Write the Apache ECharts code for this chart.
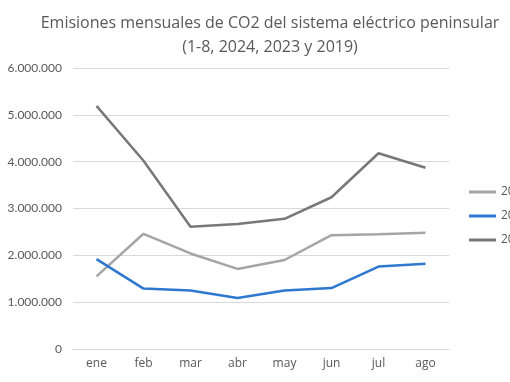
<!DOCTYPE html>
<html><head><meta charset="utf-8">
<script src="https://cdn.jsdelivr.net/npm/echarts@6/dist/echarts.min.js"></script>
<style>html,body{margin:0;padding:0;background:#fff}#c{width:510px;height:382px}</style>
</head><body><div id="c"></div>
<script>
var categories = ['ene','feb','mar','abr','may','jun','jul','ago'];
var s2024 = [1550000, 2460000, 2040000, 1710000, 1900000, 2430000, 2450000, 2480000];
var s2023 = [1920000, 1290000, 1250000, 1090000, 1250000, 1300000, 1760000, 1820000];
var s2019 = [5190000, 4020000, 2610000, 2670000, 2780000, 3240000, 4180000, 3870000];
var seriesNames = ['2024','2023','2019'];
var yTicks = {min: 0, max: 6000000, interval: 1000000};

function fmt(v){ return String(v).replace(/\B(?=(\d{3})+(?!\d))/g, '.'); }
var font = 'Lato, "Open Sans", sans-serif';
var tfont = '"Open Sans", sans-serif';
var chart = echarts.init(document.getElementById('c'));
chart.setOption({
  animation: false,
  backgroundColor: '#fff',
  title: {
    text: 'Emisiones mensuales de CO2 del sistema eléctrico peninsular\n(1-8, 2024, 2023 y 2019)',
    left: 265, top: 6, textAlign: 'center',
    textStyle: {fontFamily: tfont, fontSize: 16, fontWeight: 'normal', color: '#595959', lineHeight: 24}
  },
  legend: {
    orient: 'vertical', left: 469, top: 186, itemWidth: 27, itemHeight: 14, itemGap: 12,
    icon: 'path://M0,0 L27,0 L27,3 L0,3 Z',
    textStyle: {fontFamily: tfont, fontSize: 12, color: '#595959', overflow: 'none', width: 40},
    padding: 0,
    data: seriesNames
  },
  grid: {left: 73, right: 61, top: 68, bottom: 33},
  xAxis: {
    type: 'category', data: categories, boundaryGap: true,
    axisLine: {lineStyle: {color: '#D9D9D9'}}, axisTick: {show: false},
    axisLabel: {fontFamily: tfont, fontSize: 12, color: '#595959', margin: 9}
  },
  yAxis: {
    type: 'value', min: yTicks.min, max: yTicks.max, interval: yTicks.interval,
    axisLine: {show: false}, axisTick: {show: false},
    splitLine: {lineStyle: {color: '#D9D9D9'}},
    axisLabel: {fontFamily: font, fontSize: 12, color: '#595959', margin: 11, formatter: fmt}
  },
  series: [
    {name: seriesNames[0], type: 'line', data: s2024, symbol: 'none', lineStyle: {width: 2.5, color: '#A5A5A5'}, itemStyle: {color: '#A5A5A5'}},
    {name: seriesNames[1], type: 'line', data: s2023, symbol: 'none', lineStyle: {width: 2.5, color: '#2E78CF'}, itemStyle: {color: '#2E78CF'}},
    {name: seriesNames[2], type: 'line', data: s2019, symbol: 'none', lineStyle: {width: 2.5, color: '#787878'}, itemStyle: {color: '#787878'}}
  ]
});
</script></body></html>
